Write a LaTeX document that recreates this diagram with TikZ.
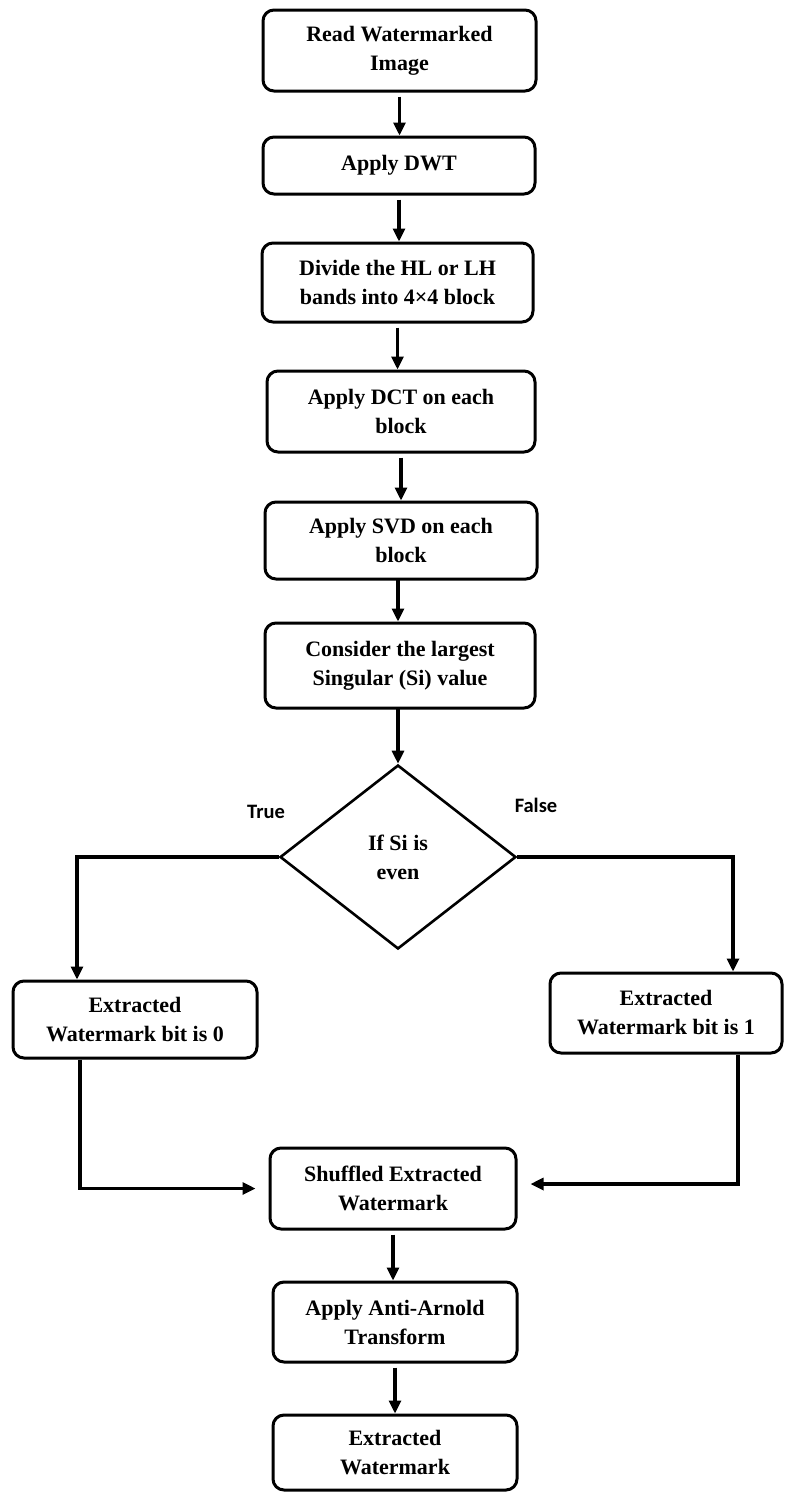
\documentclass[tikz,border=0pt]{standalone}
\usepackage{fontspec}
\setmainfont{Liberation Serif}
\newfontfamily\labfont{Carlito}
\usetikzlibrary{shapes.geometric,arrows.meta}
\begin{document}
\begin{tikzpicture}[x=1pt,y=-1pt,
  box/.style={draw,line width=3pt,rounded corners=11pt,align=center,inner sep=0pt,
    font=\fontsize{22}{29}\selectfont\bfseries},
  dec/.style={draw,diamond,line width=2.6pt,inner sep=0pt,align=center,
    font=\fontsize{22}{29}\selectfont\bfseries},
  conn/.style={line width=3.1pt},
  arr/.style={conn,-{Triangle[length=13pt,width=12pt]}},
  lab/.style={font=\labfont\fontsize{20.5}{24}\selectfont\bfseries}]
\useasboundingbox (0,0) rectangle (785,1494);

\node[box,minimum width=273pt,minimum height=81pt] (b1) at (399.5,50.5) {Read Watermarked\\Image};
\node[box,minimum width=272pt,minimum height=57pt] (b2) at (399,165.5) {Apply DWT};
\node[box,minimum width=271pt,minimum height=79pt] (b3) at (397.5,282.5) {Divide the HL or LH\\bands into 4×4 block};
\node[box,minimum width=268pt,minimum height=81pt] (b4) at (401,411.5) {Apply DCT on each\\block};
\node[box,minimum width=272pt,minimum height=77pt] (b5) at (401,540.5) {Apply SVD on each\\block};
\node[box,minimum width=270pt,minimum height=85pt] (b6) at (400,665.5) {Consider the largest\\Singular (Si) value};
\node[dec,minimum width=236pt,minimum height=184pt] (d) at (398,857) {If Si is\\even};
\node[box,minimum width=244pt,minimum height=77pt] (L) at (135,1019.5) {Extracted\\Watermark bit is 0};
\node[box,minimum width=232pt,minimum height=80pt] (R) at (666,1013) {Extracted\\Watermark bit is 1};
\node[box,minimum width=246pt,minimum height=81pt] (S) at (393,1188.5) {Shuffled Extracted\\Watermark};
\node[box,minimum width=244pt,minimum height=80pt] (A) at (395,1322) {Apply Anti-Arnold\\Transform};
\node[box,minimum width=244pt,minimum height=75pt] (E) at (395,1452.5) {Extracted\\Watermark};

\node[lab] (tl) at (266,812) {True};
\node[lab] (fl) at (536,805) {False};

\draw[arr,shorten <=4pt] (b1.south) -- (b1.south |- b2.north);
\draw[arr,shorten <=4pt] (b2.south) -- (b2.south |- b3.north);
\draw[arr,shorten <=4pt] (b3.south) -- (b3.south |- b4.north);
\draw[arr,shorten <=4pt] (b4.south) -- (b4.south |- b5.north);
\draw[arr] (398,579) coordinate (c5) -- (c5 |- b6.north);
\draw[arr] (398,708) coordinate (c6) -- (c6 |- d.north);
\draw[arr,shorten <=4pt] (S.south) -- (S.south |- A.north);
\draw[arr,shorten <=4pt] (A.south) -- (A.south |- E.north);

\coordinate (lt) at (77,857);
\coordinate (rt) at (733,857);
\draw[arr] (d.west) -- (lt) -- (lt |- L.north);
\draw[arr] (d.east) -- (rt) -- (rt |- R.north);

\coordinate (lb) at (80,1188.5);
\coordinate (rb) at (738,1184);
\draw[arr,shorten >=13pt] (lb |- L.south) -- (lb) -- (S.west);
\draw[arr,shorten >=13pt] (rb |- R.south) -- (rb) -- (rb -| S.east);
\end{tikzpicture}
\end{document}
